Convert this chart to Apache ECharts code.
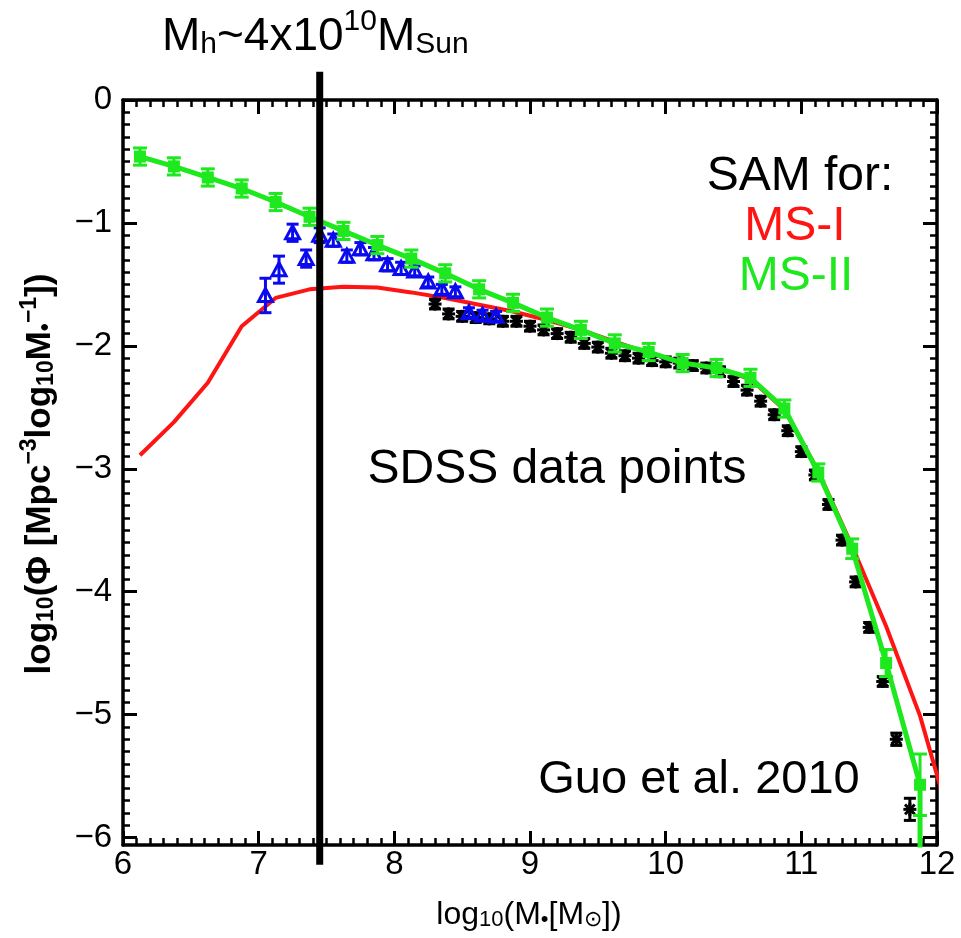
<!DOCTYPE html>
<html><head><meta charset="utf-8">
<script src="https://cdn.jsdelivr.net/npm/echarts@6/dist/echarts.min.js"></script>
<style>html,body{margin:0;padding:0;background:#fff}#c{width:961px;height:938px}</style>
</head><body><div id="c"></div>
<script>
// ---- axis ticks ----
const xTicks = [6, 7, 8, 9, 10, 11, 12];
const yTicks = [0, -1, -2, -3, -4, -5, -6];
const yMin = -6.06;

// ---- SAM for MS-II (green, with error bars) ----
const msIIx = [6.125, 6.375, 6.625, 6.875, 7.125, 7.375, 7.625, 7.875, 8.125, 8.375, 8.625, 8.875,
               9.125, 9.375, 9.625, 9.875, 10.125, 10.375, 10.625, 10.875, 11.125, 11.375, 11.625, 11.875];
const msIIy = [-0.46, -0.54, -0.63, -0.72, -0.83, -0.95, -1.065, -1.18, -1.29, -1.41, -1.54, -1.65,
               -1.77, -1.87, -1.98, -2.05, -2.14, -2.18, -2.26, -2.51, -3.03, -3.65, -4.58, -5.57];
const msIIerr = [0.07, 0.07, 0.07, 0.07, 0.07, 0.07, 0.07, 0.07, 0.07, 0.07, 0.07, 0.07,
                 0.07, 0.07, 0.07, 0.07, 0.07, 0.07, 0.07, 0.07, 0.07, 0.08, 0.11, 0.25];
const msIITailY = -6.5; // line drops off the bottom of the plot at the last point

// ---- SAM for MS-I (red line) ----
const msIx = [6.125, 6.375, 6.625, 6.875, 7.125, 7.375, 7.625, 7.875, 8.125, 8.375, 8.625, 8.875,
              9.125, 9.375, 9.625, 9.875, 10.125, 10.375, 10.625, 10.875, 11.125, 11.375, 11.625, 11.875, 12.125];
const msIy = [-2.89, -2.62, -2.30, -1.84, -1.61, -1.54, -1.52, -1.525, -1.565, -1.61, -1.665, -1.72,
              -1.79, -1.87, -1.965, -2.06, -2.13, -2.18, -2.27, -2.52, -3.02, -3.63, -4.28, -5.01, -5.97];

// ---- SDSS data points (black) ----
const sdssX = [8.3, 8.4, 8.5, 8.6, 8.7, 8.8, 8.9, 9.0, 9.1, 9.2, 9.3, 9.4, 9.5, 9.6, 9.7, 9.8, 9.9, 10.0,
               10.1, 10.2, 10.3, 10.4, 10.5, 10.6, 10.7, 10.8, 10.9, 11.0, 11.1, 11.2, 11.3, 11.4, 11.5, 11.6, 11.7, 11.8];
const sdssY = [-1.66, -1.74, -1.76, -1.77, -1.78, -1.80, -1.80, -1.84, -1.87, -1.90, -1.93, -1.98, -2.01, -2.06, -2.08, -2.10, -2.12, -2.13,
               -2.14, -2.16, -2.18, -2.21, -2.29, -2.36, -2.45, -2.56, -2.69, -2.86, -3.05, -3.29, -3.58, -3.92, -4.29, -4.73, -5.20, -5.77];
const sdssErr = [0.04, 0.04, 0.04, 0.04, 0.04, 0.04, 0.04, 0.04, 0.04, 0.04, 0.04, 0.04, 0.04, 0.04, 0.04, 0.04, 0.04, 0.04,
                 0.04, 0.04, 0.04, 0.04, 0.04, 0.04, 0.04, 0.04, 0.04, 0.04, 0.04, 0.04, 0.04, 0.04, 0.04, 0.04, 0.05, 0.09];

// ---- SDSS low-mass points (blue triangles) ----
const lowX = [7.05, 7.15, 7.25, 7.35, 7.45, 7.55, 7.65, 7.75, 7.85, 7.95, 8.05, 8.15, 8.25, 8.35, 8.45, 8.55, 8.65, 8.75];
const lowY = [-1.59, -1.38, -1.08, -1.29, -1.10, -1.14, -1.27, -1.21, -1.25, -1.34, -1.37, -1.39, -1.48, -1.54, -1.56, -1.73, -1.75, -1.76];
const lowErr = [0.14, 0.11, 0.07, 0.07, 0.06, 0.05, 0.05, 0.05, 0.05, 0.05, 0.05, 0.04, 0.04, 0.04, 0.04, 0.04, 0.04, 0.04];

// ---- halo mass marker line ----
const haloLogMstar = 7.45;
const haloLineSpan = [0.23, -6.22];

const GREEN = '#1ee81e', RED = '#ff1414', BLUE = '#0a0aee', BLACK = '#000';
const FONT = 'Liberation Sans, Arial, sans-serif';

const zip3 = (a, b, c) => a.map((v, i) => [v, b[i], c[i]]);
const zip2 = (a, b) => a.map((v, i) => [v, b[i]]);

function errRender(color, marker) {
  return function (params, api) {
    const x = api.value(0), y = api.value(1), e = api.value(2);
    const p = api.coord([x, y]);
    const t = api.coord([x, y + e]);
    const b = api.coord([x, y - e]);
    const ls = { stroke: color, lineWidth: 3 };
    const cw = marker === 'square' ? 7 : 6;
    const ch = [
      { type: 'line', shape: { x1: p[0], y1: t[1], x2: p[0], y2: b[1] }, style: ls },
      { type: 'line', shape: { x1: p[0] - cw, y1: t[1], x2: p[0] + cw, y2: t[1] }, style: ls },
      { type: 'line', shape: { x1: p[0] - cw, y1: b[1], x2: p[0] + cw, y2: b[1] }, style: ls }
    ];
    if (marker === 'square') {
      ch.push({ type: 'rect', shape: { x: p[0] - 6, y: p[1] - 6, width: 12, height: 12 }, style: { fill: color } });
    } else if (marker === 'triangle') {
      ch.push({ type: 'polygon', shape: { points: [[p[0], p[1] - 7], [p[0] + 7, p[1] + 6], [p[0] - 7, p[1] + 6]] },
                style: { fill: 'none', stroke: color, lineWidth: 3 } });
    } else if (marker === 'star') {
      const r = 6.5;
      const d = r * 0.75;
      [[-r, 0, r, 0], [0, -r, 0, r], [-d, -d, d, d], [-d, d, d, -d]].forEach(s => {
        ch.push({ type: 'line', shape: { x1: p[0] + s[0], y1: p[1] + s[1], x2: p[0] + s[2], y2: p[1] + s[3] },
                  style: { stroke: color, lineWidth: 3 } });
      });
    }
    return { type: 'group', children: ch };
  };
}

const yMinor = [];
for (let i = -60; i <= 0; i++) if (i % 10 !== 0) yMinor.push(i / 10);

const tickStyle = { color: '#000', width: 3 };
const axisLineStyle = { color: '#000', width: 3.5 };

function xAxisDef(pos, showLabel) {
  return {
    type: 'value', min: xTicks[0], max: xTicks[xTicks.length - 1], interval: 1, position: pos,
    axisLine: { show: true, onZero: false, lineStyle: axisLineStyle },
    axisTick: { show: true, inside: true, length: 14, lineStyle: tickStyle },
    minorTick: { show: true, splitNumber: 10, length: 7, lineStyle: { color: '#000', width: 2.5 } },
    axisLabel: { show: showLabel, fontSize: 33, color: '#000', fontFamily: 'Liberation Sans', margin: 3 },
    splitLine: { show: false }
  };
}
function yAxisDef(pos, major, showLabel) {
  return {
    type: 'value', min: yMin, max: 0, position: pos,
    axisLine: { show: major, onZero: false, lineStyle: axisLineStyle },
    axisTick: { show: true, inside: true, length: major ? 14 : 7, customValues: major ? yTicks : yMinor,
                lineStyle: major ? tickStyle : { color: '#000', width: 2.5 } },
    axisLabel: { show: showLabel, customValues: yTicks, fontSize: 33, color: '#000', fontFamily: 'Liberation Sans', margin: 11,
                 formatter: v => (v === 0 ? '0' : '\u2212' + Math.abs(v)) },
    splitLine: { show: false }
  };
}

const chart = echarts.init(document.getElementById('c'), null, { renderer: 'canvas' });
chart.setOption({
  animation: false,
  backgroundColor: '#fff',
  grid: { left: 123, right: 24, top: 100, bottom: 93, containLabel: false },
  xAxis: [xAxisDef('bottom', true), xAxisDef('top', false)],
  yAxis: [yAxisDef('left', true, true), yAxisDef('left', false, false),
          yAxisDef('right', true, false), yAxisDef('right', false, false)],
  series: [
    { type: 'line', data: zip2(msIx, msIy), showSymbol: false, symbol: 'none', clip: true,
      lineStyle: { color: RED, width: 4 }, z: 2 },
    { type: 'custom', renderItem: errRender(BLACK, 'star'), data: zip3(sdssX, sdssY, sdssErr),
      encode: { x: 0, y: 1 }, clip: true, z: 3 },
    { type: 'custom', renderItem: errRender(BLUE, 'triangle'), data: zip3(lowX, lowY, lowErr),
      encode: { x: 0, y: 1 }, clip: true, z: 4 },
    { type: 'line', data: zip2(msIIx, msIIy).concat([[msIIx[msIIx.length - 1], msIITailY]]),
      showSymbol: false, symbol: 'none', clip: true, lineStyle: { color: GREEN, width: 5 }, z: 5 },
    { type: 'custom', renderItem: errRender(GREEN, 'square'), data: zip3(msIIx, msIIy, msIIerr),
      encode: { x: 0, y: 1 }, clip: true, z: 6 },
    { type: 'custom', data: [[haloLogMstar, haloLineSpan[0], haloLineSpan[1]]], encode: { x: 0, y: 1 }, clip: false, z: 10,
      renderItem: function (params, api) {
        const a = api.coord([api.value(0), api.value(1)]);
        const b = api.coord([api.value(0), api.value(2)]);
        return { type: 'line', shape: { x1: a[0], y1: a[1], x2: b[0], y2: b[1] }, style: { stroke: '#000', lineWidth: 7 } };
      } }
  ],
  graphic: [
    { type: 'text', left: 162, top: 7, z: 20,
      style: { text: '{m|M}{sb|h}{m|~4x10}{sp|10}{m|M}{sb|Sun}', fill: '#000',
        rich: {
          m: { fontSize: 46, fontFamily: FONT, lineHeight: 53, verticalAlign: 'bottom' },
          sb: { fontSize: 30, fontFamily: FONT, lineHeight: 24, verticalAlign: 'bottom' },
          sp: { fontSize: 30, fontFamily: FONT, lineHeight: 40, verticalAlign: 'top' }
        } } },
    { type: 'text', x: 800, y: 177, z: 20, style: { text: 'SAM for:', fill: '#000', font: '48px ' + FONT, align: 'center', verticalAlign: 'middle' } },
    { type: 'text', x: 795, y: 227, z: 20, style: { text: 'MS-I', fill: RED, font: '48px ' + FONT, align: 'center', verticalAlign: 'middle' } },
    { type: 'text', x: 796, y: 277, z: 20, style: { text: 'MS-II', fill: GREEN, font: '48px ' + FONT, align: 'center', verticalAlign: 'middle' } },
    { type: 'text', x: 557, y: 470, z: 20, style: { text: 'SDSS data points', fill: '#000', font: '48px ' + FONT, align: 'center', verticalAlign: 'middle' } },
    { type: 'text', x: 699, y: 780, z: 20, style: { text: 'Guo et al. 2010', fill: '#000', font: '47px ' + FONT, align: 'center', verticalAlign: 'middle' } },
    { type: 'text', x: 529, y: 912, z: 20,
      style: { text: '{n|log}{s|10}{n|(M}{s|\u2022}{n|[M}{s|\u2299}{n|])}', fill: '#000', align: 'center', verticalAlign: 'middle',
        rich: {
          n: { fontSize: 32, fontFamily: FONT, lineHeight: 38, verticalAlign: 'bottom' },
          s: { fontSize: 22, fontFamily: FONT, lineHeight: 19, verticalAlign: 'bottom' }
        } } },
    { type: 'text', x: 38, y: 474, rotation: Math.PI / 2, z: 20,
      style: { text: '{n|log}{s|10}{n|(\u03A6 [Mpc}{p|\u22123}{n|log}{s|10}{n|M}{s|\u2022}{p|\u22121}{n|])}', fill: '#000',
        align: 'center', verticalAlign: 'middle',
        rich: {
          n: { fontSize: 35, fontFamily: FONT, fontWeight: 'bold', lineHeight: 40, verticalAlign: 'bottom' },
          s: { fontSize: 23, fontFamily: FONT, fontWeight: 'bold', lineHeight: 21, verticalAlign: 'bottom' },
          p: { fontSize: 23, fontFamily: FONT, fontWeight: 'bold', lineHeight: 35, verticalAlign: 'top' }
        } } }
  ]
});
</script>
</body></html>
